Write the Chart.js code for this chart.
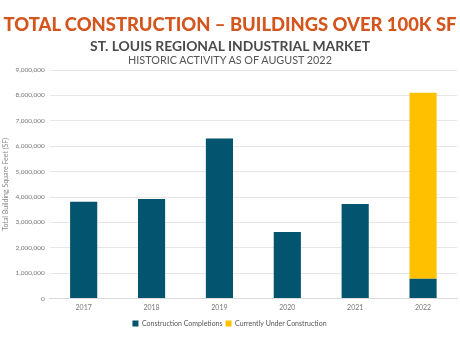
<!DOCTYPE html>
<html><head><meta charset="utf-8">
<script src="https://cdn.jsdelivr.net/npm/chart.js@4"></script>
<style>
html,body{margin:0;padding:0;background:#fff;}
#wrap{position:relative;width:460px;height:345px;overflow:hidden;font-family:Lato,"Open Sans",sans-serif;}
.t{position:absolute;left:0;width:460px;text-align:center;white-space:nowrap;}
#t1{top:13px;font-size:18.4px;font-weight:900;color:#D4561F;letter-spacing:0px;}
#t2{top:37px;font-size:13.9px;font-weight:700;color:#4a4a4a;}
#t3{top:53px;font-size:10.8px;color:#555;}
canvas{position:absolute;left:0;top:0;}
</style></head><body>
<div id="wrap">
<canvas id="c" width="460" height="345"></canvas>
<div class="t" id="t1">TOTAL CONSTRUCTION – BUILDINGS OVER 100K SF</div>
<div class="t" id="t2">ST. LOUIS REGIONAL INDUSTRIAL MARKET</div>
<div class="t" id="t3">HISTORIC ACTIVITY AS OF AUGUST 2022</div>
</div>
<script>
const years = ["2017","2018","2019","2020","2021","2022"];
const completions = [3810000, 3920000, 6300000, 2620000, 3720000, 780000];
const underConstruction = [0, 0, 0, 0, 0, 7320000];
const seriesNames = ["Construction Completions","Currently Under Construction"];
const yAxisTitle = "Total Building Square Feet (SF)";

Chart.defaults.font.family = "Lato, 'Open Sans', sans-serif";
Chart.defaults.color = "#7a7a7a";
new Chart(document.getElementById('c'), {
  type: 'bar',
  data: {
    labels: years,
    datasets: [
      {label: seriesNames[0], data: completions, backgroundColor: '#03546F', barPercentage: 0.4, categoryPercentage: 1.0},
      {label: seriesNames[1], data: underConstruction, backgroundColor: '#FFC000', barPercentage: 0.4, categoryPercentage: 1.0}
    ]
  },
  options: {
    responsive: false,
    animation: false,
    layout: {padding: {top: 70, right: 3, bottom: 8, left: 2}},
    plugins: {
      legend: {position: 'bottom', labels: {boxWidth: 6, boxHeight: 6, padding: 3, font: {size: 7}, color: '#555'}},
      tooltip: {enabled: false}
    },
    scales: {
      x: {stacked: true, grid: {display: false, drawTicks: false}, border: {display: true, color: '#d9d9d9'},
          ticks: {font: {size: 7}, color: '#777', padding: 5}},
      y: {stacked: true, min: 0, max: 9000000,
          grid: {color: '#e6e6e6', drawTicks: false}, border: {display: false},
          ticks: {stepSize: 1000000, font: {size: 6.5}, color: '#777', padding: 5,
                  callback: v => v.toLocaleString('en-US')},
          title: {display: true, text: yAxisTitle, font: {size: 7}, color: '#888', padding: 0}}
    }
  }
});
</script>
</body></html>
